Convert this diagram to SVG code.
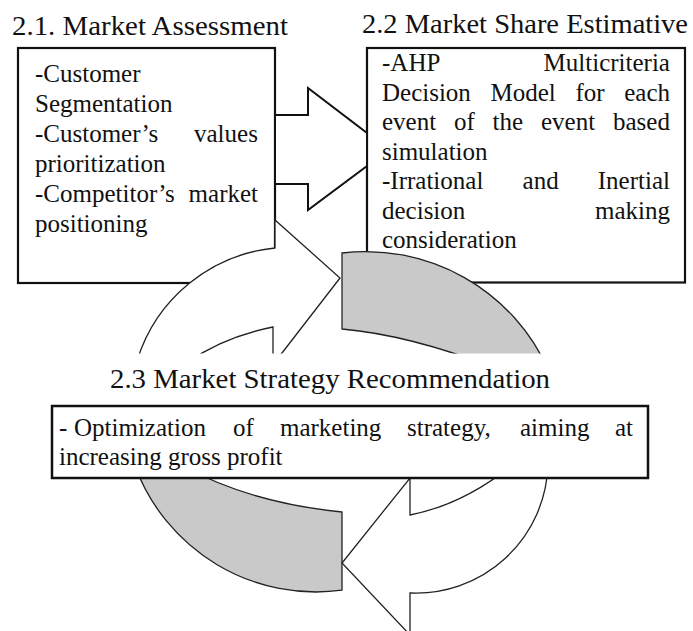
<svg xmlns="http://www.w3.org/2000/svg" width="693" height="631" viewBox="0 0 693 631">
<style>
 .title{font-family:"Liberation Serif","Times New Roman",serif;font-size:28px;fill:#111}
 .body{font-family:"Liberation Serif","Times New Roman",serif;font-size:25px;fill:#111}
 .box{fill:#fff;stroke:#111;stroke-width:2.2}
 .blk{fill:#fff;stroke:#111;stroke-width:2;stroke-linejoin:miter}
 .cyc{stroke:#222;stroke-width:1.3;stroke-linejoin:miter}
 .white{fill:#fff}
 .gray{fill:#c9c9c9}
</style>
<defs>
 <clipPath id="cut">
  <rect x="0" y="0" width="693" height="353.5"/>
  <rect x="0" y="406" width="693" height="225"/>
 </clipPath>
</defs>
<rect x="0" y="0" width="693" height="631" fill="#fff"/>

<g id="market-assessment">
 <text class="title" x="12" y="35" textLength="276" lengthAdjust="spacingAndGlyphs">2.1. Market Assessment</text>
 <rect class="box" x="18" y="48" width="257" height="235"/>
 <text class="body">
  <tspan x="35" y="82">-Customer</tspan>
  <tspan x="35" y="112">Segmentation</tspan>
  <tspan x="35" y="142">-Customer’s</tspan><tspan x="194" y="142">values</tspan>
  <tspan x="35" y="172">prioritization</tspan>
  <tspan x="35" y="202">-Competitor’s</tspan><tspan x="188.6" y="202">market</tspan>
  <tspan x="35" y="232">positioning</tspan>
 </text>
</g>

<g id="market-share-estimative">
 <text class="title" x="362" y="33" textLength="326" lengthAdjust="spacingAndGlyphs">2.2 Market Share Estimative</text>
 <rect class="box" x="367" y="48" width="318" height="234.5"/>
 <text class="body">
  <tspan x="382" y="71">-AHP</tspan><tspan x="543.6" y="71">Multicriteria</tspan>
  <tspan x="382" y="100.5">Decision</tspan><tspan x="490.5" y="100.5">Model</tspan><tspan x="575.4" y="100.5">for</tspan><tspan x="624.2" y="100.5">each</tspan>
  <tspan x="382" y="130">event</tspan><tspan x="454" y="130">of</tspan><tspan x="492.6" y="130">the</tspan><tspan x="541" y="130">event</tspan><tspan x="613" y="130">based</tspan>
  <tspan x="382" y="159.5">simulation</tspan>
  <tspan x="382" y="189">-Irrational</tspan><tspan x="522.6" y="189">and</tspan><tspan x="597.8" y="189">Inertial</tspan>
  <tspan x="382" y="218.5">decision</tspan><tspan x="595" y="218.5">making</tspan>
  <tspan x="382" y="248">consideration</tspan>
 </text>
</g>

<g id="connectors">
 <polygon class="blk" points="275,115 308,115 308,88 367,133 367,166 308,210 308,184 275,184"/>
 <g clip-path="url(#cut)">
  <path class="cyc white" d="M 137.3,360 A 161 161 0 0 1 275,248 L 275,220 L 340,278 L 276.6,360 L 273,360 L 273,327 Q 224,336.8 188,362 Z"/>
  <path class="cyc gray" d="M 342,253 A 200 200 0 0 1 548.4,370 L 495,368 Q 410,335 342,329 Z"/>
  <path class="cyc gray" d="M 342,512 L 342,590.2 A 193 193 0 0 1 135,466 L 183,466 Q 250,502.8 342,512 Z"/>
  <path class="cyc white" d="M 547.9,466 A 132 132 0 0 1 410,592.9 L 410,635 L 342,563 L 410,478 L 410,515 Q 463,504.4 511,466 Z"/>
 </g>
</g>

<g id="market-strategy-recommendation">
 <text class="title" x="110" y="388" textLength="440" lengthAdjust="spacingAndGlyphs">2.3 Market Strategy Recommendation</text>
 <rect class="box" x="52" y="406" width="596" height="72" style="stroke-width:2.5"/>
 <text class="body">
  <tspan x="59" y="436">-</tspan><tspan x="74" y="436">Optimization</tspan><tspan x="233" y="436">of</tspan><tspan x="280" y="436">marketing</tspan><tspan x="407" y="436">strategy,</tspan><tspan x="520" y="436">aiming</tspan><tspan x="615" y="436">at</tspan>
  <tspan x="59" y="465">increasing gross profit</tspan>
 </text>
</g>
</svg>
